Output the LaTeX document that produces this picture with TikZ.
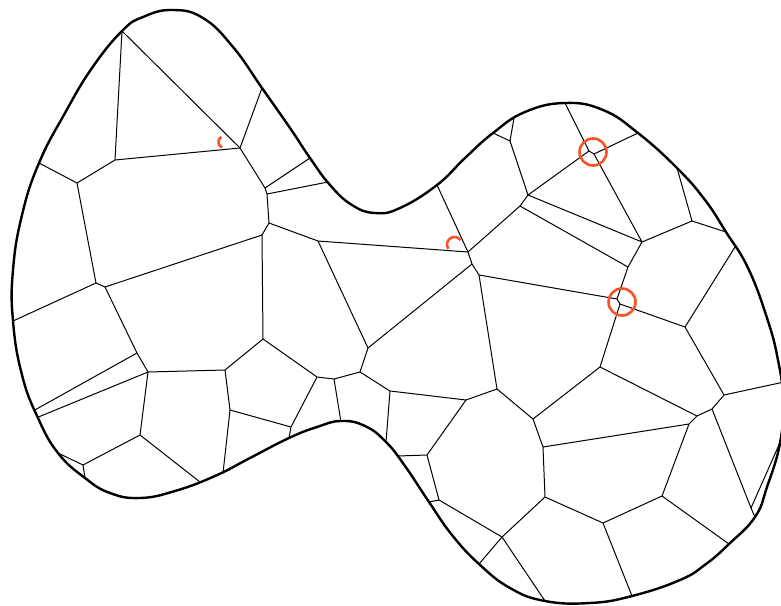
\documentclass[tikz,border=0pt]{standalone}
\usetikzlibrary{calc}
\definecolor{markorange}{RGB}{247,83,40}
\begin{document}
\begin{tikzpicture}[x=1pt,y=-1pt,
  cell/.style={line width=1pt, line join=round},
  blobline/.style={line width=2.4pt, line join=round},
  markline/.style={draw=markorange, line width=2.6pt}]
\useasboundingbox (0,0) rectangle (781,605);
% edge end points on the outline
\coordinate (b1) at (122,31);
\coordinate (b2) at (39,163);
\coordinate (b3) at (262,88);
\coordinate (b4) at (310,158);
\coordinate (b5) at (328,182);
\coordinate (b6) at (13,321);
\coordinate (b7) at (33,411);
\coordinate (b8) at (36,418);
\coordinate (b9) at (223,473);
\coordinate (b10) at (58,453);
\coordinate (b11) at (85,478);
\coordinate (b12) at (200,482);
\coordinate (b13) at (289,438);
\coordinate (b14) at (341,422);
\coordinate (b15) at (386,442);
\coordinate (b16) at (398,456);
\coordinate (b17) at (429,502);
\coordinate (b18) at (479,564);
\coordinate (b19) at (437,185);
\coordinate (b20) at (514,118);
\coordinate (b21) at (493,133);
\coordinate (b22) at (565,103);
\coordinate (b23) at (638,133);
\coordinate (b24) at (677,168);
\coordinate (b25) at (726,232);
\coordinate (b26) at (735,247);
\coordinate (b27) at (784,382);
\coordinate (b28) at (755,517);
\coordinate (b29) at (782,438);
\coordinate (b30) at (632,596);
\coordinate (b31) at (729,544);
\coordinate (b32) at (545,601);
% inner vertices
\coordinate (v1) at (115,160);
\coordinate (v2) at (77,183);
\coordinate (v3) at (240,148);
\coordinate (v4) at (265,188);
\coordinate (v5) at (267,194);
\coordinate (v6) at (269,223);
\coordinate (v7) at (262,235);
\coordinate (v8) at (96,283);
\coordinate (v9) at (105,287);
\coordinate (v10) at (137,353);
\coordinate (v11) at (148,372);
\coordinate (v12) at (263,339);
\coordinate (v13) at (225,370);
\coordinate (v14) at (230,410);
\coordinate (v15) at (140,435);
\coordinate (v16) at (83,465);
\coordinate (v17) at (318,241);
\coordinate (v18) at (368,348);
\coordinate (v19) at (360,372);
\coordinate (v20) at (334,379);
\coordinate (v21) at (317,377);
\coordinate (v22) at (291,427);
\coordinate (v23) at (390,391);
\coordinate (v24) at (466,400);
\coordinate (v25) at (497,389);
\coordinate (v26) at (427,455);
\coordinate (v27) at (439,500);
\coordinate (v28) at (502,537);
\coordinate (v29) at (468,252);
\coordinate (v30) at (472,264);
\coordinate (v31) at (479,275);
\coordinate (v32) at (520,206);
\coordinate (v33) at (528,195);
\coordinate (v34) at (510,141);
\coordinate (v35) at (589,151);
\coordinate (v36) at (594,154);
\coordinate (v37) at (642,242);
\coordinate (v38) at (692,221);
\coordinate (v39) at (628,267);
\coordinate (v40) at (617,299);
\coordinate (v41) at (620,304);
\coordinate (v42) at (685,327);
\coordinate (v43) at (724,395);
\coordinate (v44) at (712,409);
\coordinate (v45) at (697,416);
\coordinate (v46) at (689,424);
\coordinate (v47) at (751,508);
\coordinate (v48) at (600,367);
\coordinate (v49) at (533,419);
\coordinate (v50) at (543,447);
\coordinate (v51) at (545,497);
\coordinate (v52) at (603,523);
\coordinate (v53) at (662,496);
\begin{scope}
\clip plot[smooth cycle, tension=0.75] coordinates {
 (172,10) (203,18) (233,47) (262,88) (290,128) (310,158) (330,185) (352,205) (375,213)
 (400,208) (437,185) (465,158) (493,133) (525,112) (565,103) (603,110) (638,133)
 (677,168) (705,200) (726,232) (748,268) (767,318) (778,360) (783,400) (780,443)
 (767,487) (755,517) (729,544) (706,564) (680,580) (632,596) (590,603) (545,601) (510,588)
 (479,564) (452,535) (429,502) (405,466) (386,442) (365,426) (341,421) (317,427)
 (289,438) (250,458) (215,476) (175,491) (140,498) (110,493) (85,478) (58,453)
 (38,418) (22,375) (13,321) (13,270) (22,215) (39,163) (65,113) (92,68) (122,31) (143,17)};
\tikzset{ext/.style={to path={-- ($(\tikztotarget)!-14pt!(\tikztostart)$)}}}
% edges to the outline (extended, then clipped)
\draw[cell] (v1) to[ext] (b1) (v3) to[ext] (b1) (v2) to[ext] (b2) (v3) to[ext] (b3)
  (v4) to[ext] (b4) (v5) to[ext] (b5) (v8) to[ext] (b6) (v10) to[ext] (b7)
  (v11) to[ext] (b8) (v14) to[ext] (b9) (v15) to[ext] (b12) (v16) to[ext] (b10)
  (v16) to[ext] (b11) (v20) to[ext] (b14) (v22) to[ext] (b13) (v23) to[ext] (b15)
  (v26) to[ext] (b16) (v27) to[ext] (b17) (v28) to[ext] (b18) (v28) to[ext] (b32)
  (v29) to[ext] (b19) (v34) to[ext] (b20) (v34) to[ext] (b21) (v35) to[ext] (b22)
  (v36) to[ext] (b23) (v38) to[ext] (b24) (v38) to[ext] (b25) (v42) to[ext] (b26)
  (v43) to[ext] (b27) (v47) to[ext] (b28) (v47) to[ext] (b29) (v52) to[ext] (b30)
  (v53) to[ext] (b31);
% inner edges
\draw[cell] (v1)--(v3) (v1)--(v2) (v2)--(v8)
  (v3)--(v4) (v4)--(v5) (v5)--(v6)
  (v6)--(v7) (v6)--(v17) (v7)--(v9) (v7)--(v12) (v8)--(v9)
  (v9)--(v10) (v10)--(v11) (v11)--(v13) (v11)--(v15)
  (v12)--(v13) (v12)--(v21) (v13)--(v14) (v14)--(v22)
  (v15)--(v16)
  (v17)--(v18) (v17)--(v29) (v18)--(v19) (v18)--(v30) (v19)--(v20) (v19)--(v23)
  (v20)--(v21) (v21)--(v22)
  (v23)--(v24) (v24)--(v25) (v24)--(v26) (v25)--(v31) (v25)--(v49)
  (v26)--(v27) (v27)--(v28) (v28)--(v51)
  (v29)--(v32) (v29)--(v30) (v30)--(v31) (v31)--(v40)
  (v32)--(v33) (v32)--(v39) (v33)--(v34) (v33)--(v35) (v33)--(v37)
  (v35)--(v36) (v36)--(v37)
  (v37)--(v38) (v37)--(v39)
  (v39)--(v40) (v40)--(v41) (v41)--(v42) (v41)--(v48) (v42)--(v43)
  (v43)--(v44) (v44)--(v45) (v44)--(v47) (v45)--(v46) (v45)--(v48)
  (v46)--(v50) (v46)--(v53)
  (v48)--(v49) (v49)--(v50) (v50)--(v51) (v51)--(v52) (v52)--(v53);
\end{scope}
% outline
\draw[blobline] plot[smooth cycle, tension=0.75] coordinates {
 (172,10) (203,18) (233,47) (262,88) (290,128) (310,158) (330,185) (352,205) (375,213)
 (400,208) (437,185) (465,158) (493,133) (525,112) (565,103) (603,110) (638,133)
 (677,168) (705,200) (726,232) (748,268) (767,318) (778,360) (783,400) (780,443)
 (767,487) (755,517) (729,544) (706,564) (680,580) (632,596) (590,603) (545,601) (510,588)
 (479,564) (452,535) (429,502) (405,466) (386,442) (365,426) (341,421) (317,427)
 (289,438) (250,458) (215,476) (175,491) (140,498) (110,493) (85,478) (58,453)
 (38,418) (22,375) (13,321) (13,270) (22,215) (39,163) (65,113) (92,68) (122,31) (143,17)};
% orange marks
\coordinate (m1) at (224.5,142);
\coordinate (m2) at (454.5,244.5);
\coordinate (m3) at (593,152);
\coordinate (m4) at (622,302);
\draw[markline] (m1) ++(122:6pt) arc[start angle=122, end angle=245, radius=6pt];
\draw[markline] (m2) ++(215:7.5pt) arc[start angle=215, end angle=35, radius=7.5pt];
\draw[markline] (m3) circle[radius=13.5pt];
\draw[markline] (m4) circle[radius=13.5pt];
\end{tikzpicture}
\end{document}
